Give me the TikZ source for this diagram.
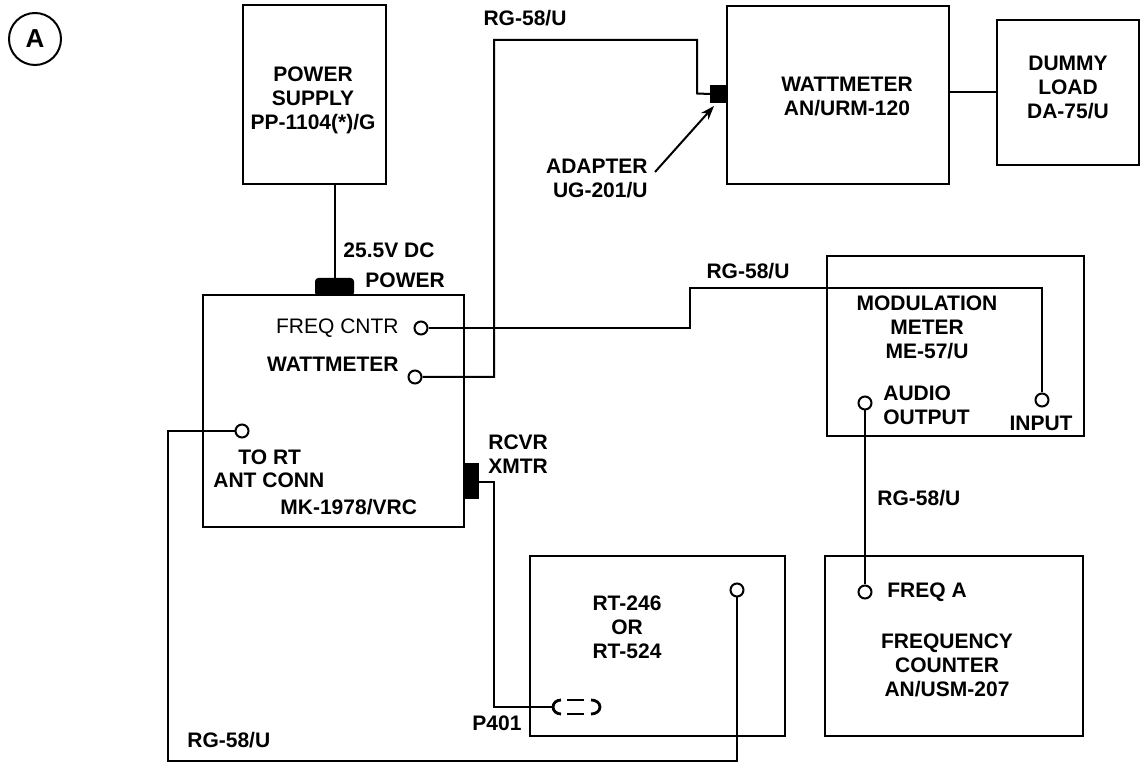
\documentclass[tikz,border=0pt]{standalone}
\usepackage{fontspec}
\setmainfont{Liberation Sans}
\usetikzlibrary{arrows.meta}
\begin{document}
\begin{tikzpicture}[x=0.5pt,y=-0.5pt,
  box/.style={draw,line width=1pt,anchor=north west,inner sep=0pt},
  lbl/.style={font=\fontsize{10.5}{12}\selectfont\bfseries,inner sep=0pt,align=center},
  port/.style={circle,draw,line width=1pt,fill=white,minimum size=6.5pt,inner sep=0pt},
  wire/.style={line width=1pt},
  plug/.style={fill=black,draw,line width=0.5pt,inner sep=0pt,anchor=north west}]
\useasboundingbox (0,0) rectangle (1140,763);
% marker A
\node[circle,draw,line width=1pt,minimum size=26pt,inner sep=0pt,font=\fontsize{13}{13}\selectfont\bfseries] (mark) at (35,39) {A};
% boxes
\node[box,minimum width=71.5pt,minimum height=89.5pt] (ps) at (242,4) {};
\node[box,minimum width=130.5pt,minimum height=116pt] (mk) at (202,294) {};
\node[box,minimum width=111pt,minimum height=89pt] (wm) at (726,5) {};
\node[box,minimum width=71pt,minimum height=72.5pt] (dl) at (996,19) {};
\node[box,minimum width=128.5pt,minimum height=90pt] (mm) at (826,255) {};
\node[box,minimum width=129pt,minimum height=90pt] (fq) at (824,555) {};
\node[box,minimum width=127.5pt,minimum height=90pt] (rt) at (529,555) {};
% plugs
\node[plug,minimum width=19pt,minimum height=8.5pt,rounded corners=1.5pt] (pwr) at (315,278) {};
\node[plug,minimum width=7.5pt,minimum height=17.5pt] (rx) at (463,463) {};
\node[plug,minimum width=8pt,minimum height=8.5pt] (adp) at (710,85) {};
% ports
\node[port] (fc) at (421,328) {};
\node[port] (wp) at (415,377) {};
\node[port] (tort) at (242,431) {};
\node[port] (rtp) at (737,590) {};
\node[port] (inp) at (1042,400) {};
\node[port] (ao) at (865,403) {};
\node[port] (fa) at (865,592) {};
% corner coordinates
\coordinate (w1) at (494,40);
\coordinate (w2) at (697,93.5);
\coordinate (f1) at (690,288);
\coordinate (r1) at (168,761);
\coordinate (p1) at (494,482);
\coordinate (conn) at (552,707);
\coordinate (tip) at (714,106);
\coordinate (tail) at (655,172);
% wires
\draw[wire] (pwr.north |- ps.south) -- (pwr.north);
\draw[wire] (wp.east) -| (w1) -| (w2) -- (adp.west);
\draw[wire] (wm.east |- dl.west) -- (dl.west);
\draw[wire] (fc.east) -| (f1) -| (inp.north);
\draw[wire] (ao.south) -- (fa.north);
\draw[wire] (rtp.south) |- (r1) |- (tort.west);
\draw[wire] (rx.east |- p1) -- (p1) |- (conn);
\draw[wire,-{Stealth[length=7pt,width=5pt]}] (tail) -- (tip);
% connector P401
\draw[line width=1.4pt] (561,700) to[out=180,in=90] (553,707) to[out=-90,in=180] (561,714);
\draw[line width=1.4pt] (567,700) -- (584,700) (567,714) -- (584,714);
\draw[line width=1.4pt] (591,700) to[out=0,in=90] (600,707) to[out=-90,in=0] (591,714);
% labels
\node[lbl] (pst) at (313,100) {POWER\\SUPPLY\\PP-1104(*)/G};
\node[lbl,anchor=west] (v255) at (343,250) {25.5V DC};
\node[lbl,anchor=west] (pwl) at (365,280) {POWER};
\node[lbl,anchor=east,font=\fontsize{10.5}{12}\selectfont] (fcl) at (399,328) {FREQ CNTR};
\node[lbl,anchor=east] (wml) at (399,364) {WATTMETER};
\node[lbl,anchor=west] (tortl) at (238,457) {TO RT};
\node[lbl,anchor=west] (antl) at (213,480) {ANT CONN};
\node[lbl,anchor=west] (mkl) at (280,507) {MK-1978/VRC};
\node[lbl,anchor=west,align=left] (rxl) at (488,454) {RCVR\\XMTR};
\node[lbl,anchor=west] (p401) at (472,723) {P401};
\node[lbl,anchor=west] (rgb) at (187,740) {RG-58/U};
\node[lbl] (rtl) at (627,627) {RT-246\\OR\\RT-524};
\node[lbl] (rgt) at (525,18) {RG-58/U};
\node[lbl,anchor=east,align=right] (adl) at (648,178) {ADAPTER\\UG-201/U};
\node[lbl] (wml2) at (847,96) {WATTMETER\\AN/URM-120};
\node[lbl] (dll) at (1068,87) {DUMMY\\LOAD\\DA-75/U};
\node[lbl] (rgm) at (748,271) {RG-58/U};
\node[lbl] (mml) at (927,327) {MODULATION\\METER\\ME-57/U};
\node[lbl,anchor=west,align=left] (aol) at (883,405) {AUDIO\\OUTPUT};
\node[lbl] (inl) at (1041,423) {INPUT};
\node[lbl,anchor=west] (rgf) at (877,498) {RG-58/U};
\node[lbl,anchor=west] (fal) at (887,592) {FREQ A};
\node[lbl] (fql) at (947,665) {FREQUENCY\\COUNTER\\AN/USM-207};
\end{tikzpicture}
\end{document}
